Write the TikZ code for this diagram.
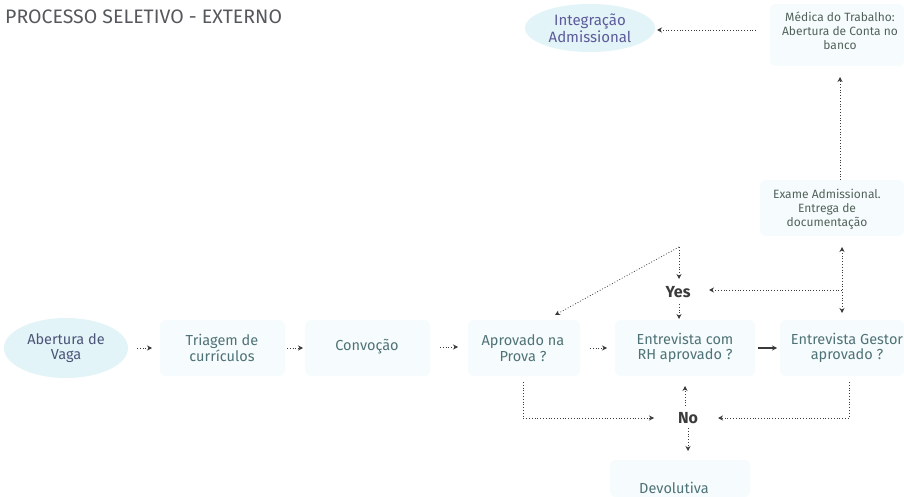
\documentclass[tikz,border=0pt]{standalone}
\usepackage{fontspec}
\setmainfont{Fira Sans}
\usetikzlibrary{arrows.meta,shapes.geometric}
\definecolor{bgstrong}{HTML}{E2F4F8}
\definecolor{bgfaint}{HTML}{F6FCFD}
\definecolor{txtblue}{HTML}{4B5578}
\definecolor{txtpurple}{HTML}{5D5A9A}
\definecolor{txtteal}{HTML}{4F7276}
\definecolor{txtgreen}{HTML}{52625A}
\definecolor{linegray}{HTML}{3A3A3A}
\definecolor{titlegray}{HTML}{55585C}
\tikzset{
  lbl/.style={align=center, font=\fontsize{14.5}{15.5}\selectfont, text=txtteal, inner sep=0pt},
  small/.style={font=\fontsize{12}{14}\selectfont, text=txtgreen},
  conn/.style={draw=linegray, dotted, line width=0.8pt, -{Stealth[length=5pt,width=5pt]}},
  solidconn/.style={draw=linegray, line width=1.3pt, -{Stealth[length=5pt,width=5pt]}},
  yn/.style={font=\fontsize{16}{18}\selectfont\bfseries, text=linegray, inner sep=2pt},
}
\begin{document}
\begin{tikzpicture}[x=1pt,y=-1pt]
\useasboundingbox (0,0) rectangle (904,497);
\fill[white] (0,0) rectangle (904,497);
% backgrounds
\fill[bgstrong] (66,348) ellipse (62pt and 30pt);
\fill[bgstrong] (590,28) ellipse (65pt and 24pt);
\fill[bgfaint, rounded corners=6pt] (770,4) rectangle (904,66);
\fill[bgfaint, rounded corners=6pt] (760,180) rectangle (904,236);
\fill[bgfaint, rounded corners=6pt] (160,320) rectangle (285,376);
\fill[bgfaint, rounded corners=6pt] (305,320) rectangle (430,376);
\fill[bgfaint, rounded corners=6pt] (468,320) rectangle (580,376);
\fill[bgfaint, rounded corners=6pt] (615,320) rectangle (755,376);
\fill[bgfaint, rounded corners=6pt] (780,320) rectangle (904,376);
\fill[bgfaint, rounded corners=6pt] (610,460) rectangle (750,497);
% title
\node[anchor=west, font=\fontsize{19.5}{22}\selectfont, text=titlegray, inner sep=0pt] (title) at (5,17) {PROCESSO SELETIVO - EXTERNO};
% nodes
\node[lbl, text=txtpurple, font=\fontsize{15}{17}\selectfont] (integ) at (590,28) {Integração\\Admissional};
\node[lbl, small] (medica) at (840,31) {Médica do Trabalho:\\Abertura de Conta no\\banco};
\node[lbl, small] (exame) at (827,209) {Exame Admissional.\\Entrega de\\documentação};
\node[lbl, text=txtblue] (abertura) at (66,348) {Abertura de\\Vaga};
\node[lbl] (triagem) at (222,348) {Triagem de\\currículos};
\node[lbl] (convoc) at (367,347) {Convoção};
\node[lbl] (aprov) at (523,348) {Aprovado na\\Prova ?};
\node[lbl] (rh) at (685,348) {Entrevista com\\RH aprovado ?};
\node[lbl] (gestor) at (847,348) {Entrevista Gestor\\aprovado ?};
\node[yn] (yes) at (678,292) {Yes};
\node[yn] (no) at (688,418) {No};
\node[lbl, font=\fontsize{14.5}{16}\selectfont] (devol) at (674,488) {Devolutiva};
% coordinates
\coordinate (split) at (679,247);
\coordinate (exbot) at (842,290);
\coordinate (yesE) at (709,290);
\coordinate (yesN) at (679,279);
\coordinate (yesS) at (679,304);
\coordinate (apbot) at (523,418);
\coordinate (gebot) at (849,418);
\coordinate (noW) at (654,418);
\coordinate (noE) at (718,418);
\coordinate (noN) at (685,406);
\coordinate (noS) at (688,428);
\coordinate (medw) at (756,30);
\coordinate (integE) at (657,30);
\coordinate (exN) at (840,180);
\coordinate (medS) at (840,77);
\coordinate (dblT) at (842,247);
\coordinate (dblB) at (842,313);
\coordinate (apN) at (555,315);
\coordinate (rhN) at (679,319);
\coordinate (rhS) at (685,386);
\coordinate (devN) at (688,451);
\coordinate (apS) at (523,382);
\coordinate (geS) at (849,382);
% connectors
\draw[conn] (medw) -- (integE);
\draw[conn] (exN) -- (medS);
\draw[conn, {Stealth[length=5pt,width=5pt]}-{Stealth[length=5pt,width=5pt]}] (dblT) -- (dblB);
\draw[conn] (exbot) -- (yesE);
\draw[conn] (split) -- (yesN);
\draw[conn] (split) -- (apN);
\draw[conn] (yesS) -- (rhN);
\draw[conn] (abertura.east -| 137,0) -- (abertura.east -| 152,0);
\draw[conn] (triagem.east -| 287,0) -- (triagem.east -| 303,0);
\draw[conn] (convoc.east -| 440,0) -- (convoc.east -| 458,0);
\draw[conn] (aprov.east -| 590,0) -- (aprov.east -| 607,0);
\draw[solidconn] (rh.east -| 758,0) -- (rh.east -| 777,0);
\draw[conn] (noN) -- (rhS);
\draw[conn] (apS) -- (apbot) -- (noW);
\draw[conn] (geS) -- (gebot) -- (noE);
\draw[conn] (noS) -- (devN);
\end{tikzpicture}
\end{document}
